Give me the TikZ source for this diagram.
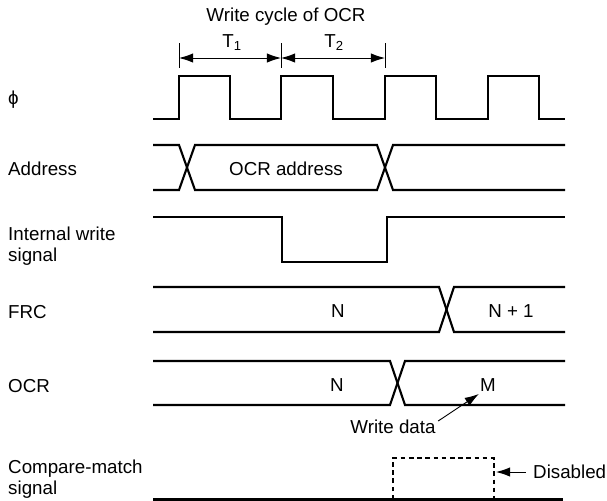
\documentclass[tikz,border=0pt]{standalone}
\usepackage{fontspec}
\setmainfont{Liberation Sans}
\usetikzlibrary{arrows.meta}

\begin{document}
\begin{tikzpicture}[x=0.03cm,y=-0.03cm,
  sig/.style={line width=1.8pt},
  thinline/.style={line width=0.8pt},
  pointer/.style={thinline,-{Latex[length=12pt,width=8pt]}},
  lbl/.style={font=\fontsize{16}{17.5}\selectfont,inner sep=0pt,align=left}]

\useasboundingbox (0,0) rectangle (607,501);

% cycle dimension
\node[lbl] (title) at (286,17) {Write cycle of OCR};
\node[lbl] (t1) at (232,43) {T\textsubscript{1}};
\node[lbl] (t2) at (334,43) {T\textsubscript{2}};

\draw[thinline] (179,43) -- (179,68);
\draw[thinline] (281,43) -- (281,68);
\draw[thinline] (385,43) -- (385,68);
\draw[thinline,{Latex[length=12pt,width=8pt]}-{Latex[length=12pt,width=8pt]}] (179,58) -- (281,58); % T1
\draw[thinline,{Latex[length=12pt,width=8pt]}-{Latex[length=12pt,width=8pt]}] (281,58) -- (385,58); % T2

% signal names
\node[lbl,anchor=west] (phi) at (8,100) {ϕ};
\node[lbl,anchor=west] (addr) at (8,169) {Address};
\node[lbl,anchor=west] (wr) at (8,246) {Internal write\\signal};
\node[lbl,anchor=west] (frc) at (8,312) {FRC};
\node[lbl,anchor=west] (ocr) at (8,386) {OCR};
\node[lbl,anchor=west] (cm) at (8,479) {Compare-match\\signal};

% clock
\draw[sig] (153,119) -- (179,119) -- (179,76) -- (230,76) -- (230,119)
  -- (281,119) -- (281,76) -- (333,76) -- (333,119)
  -- (385,119) -- (385,76) -- (436,76) -- (436,119)
  -- (488,119) -- (488,76) -- (539,76) -- (539,119) -- (565,119);

% address
\draw[sig] (153,145) -- (179,145) -- (195,190) -- (377,190) -- (393,145) -- (565,145);
\draw[sig] (153,190) -- (179,190) -- (195,145) -- (377,145) -- (393,190) -- (565,190);
\node[lbl] (ocraddr) at (286,169) {OCR address};

% internal write
\draw[sig] (153,217) -- (282,217) -- (282,262) -- (387,262) -- (387,217) -- (565,217);

% FRC
\draw[sig] (153,287) -- (439,287) -- (454,332) -- (565,332);
\draw[sig] (153,332) -- (439,332) -- (454,287) -- (565,287);
\node[lbl] (frcn) at (338,311) {N};
\node[lbl] (frcn1) at (511,311) {N + 1};

% OCR
\draw[sig] (153,361) -- (390,361) -- (405,405) -- (565,405);
\draw[sig] (153,405) -- (390,405) -- (405,361) -- (565,361);
\node[lbl] (ocrn) at (337,385) {N};
\node[lbl] (ocrm) at (488,385) {M};
\node[lbl] (wdata) at (393,427) {Write data};
\draw[pointer] ([xshift=2pt,yshift=-1pt]wdata.north east) -- ([xshift=-1pt,yshift=-2pt]ocrm.south west);

% compare match
\draw[sig] (153,499.5) -- (563,499.5);
\draw[sig,dash pattern=on 4pt off 3pt] (393,499.5) -- (393,458) -- (494,458) -- (494,499.5);
\node[lbl,anchor=west] (dis) at (533,472) {Disabled};
\coordinate (dashr) at (496,472);
\draw[pointer] ([xshift=-6pt]dis.west) -- (dashr);

\end{tikzpicture}
\end{document}
